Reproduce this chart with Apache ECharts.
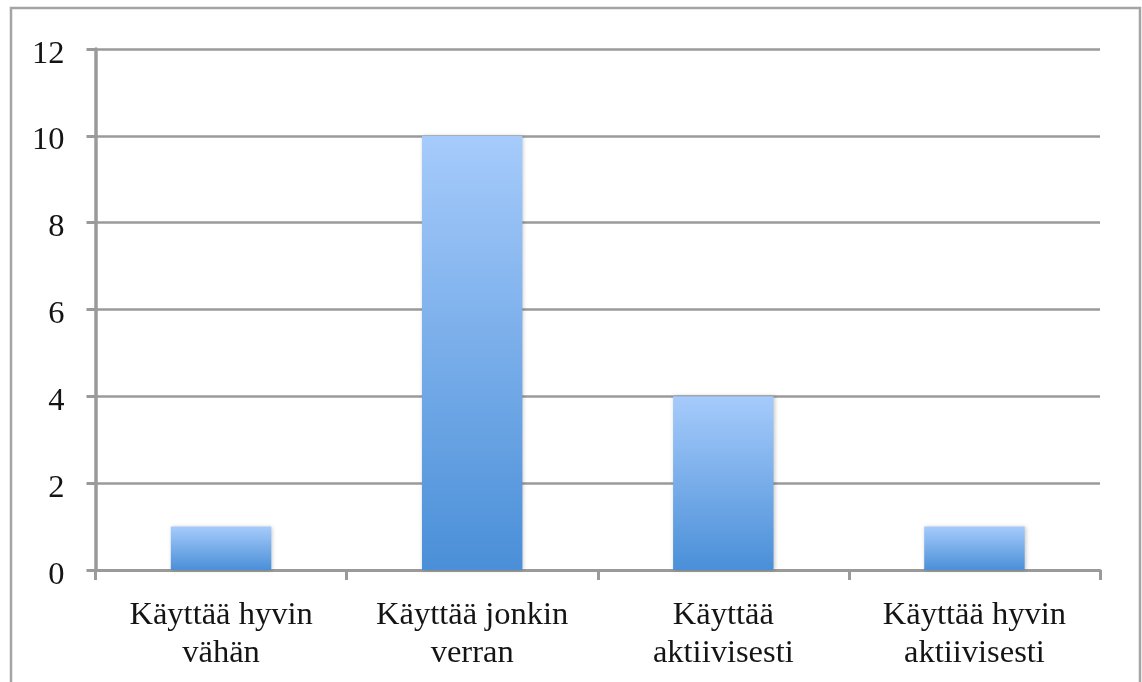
<!DOCTYPE html>
<html>
<head>
<meta charset="utf-8">
<script src="https://cdn.jsdelivr.net/npm/echarts@6/dist/echarts.min.js"></script>
<style>
  html, body { margin: 0; padding: 0; background: #ffffff; }
  #chart { width: 1142px; height: 682px; }
</style>
</head>
<body>
<div id="chart"></div>
<script>
// Category labels (two lines each) and counts per category
const categories = [
  'Käyttää hyvin\nvähän',
  'Käyttää jonkin\nverran',
  'Käyttää\naktiivisesti',
  'Käyttää hyvin\naktiivisesti'
];
const counts = [1, 10, 4, 1];

// Value axis range
const yMin = 0;
const yMax = 12;
const yStep = 2;

const FONT = '"Liberation Serif", "Times New Roman", serif';
const AXIS_GREY = '#9a9a9a';

const chart = echarts.init(document.getElementById('chart'), null, { renderer: 'canvas' });

chart.setOption({
  backgroundColor: '#ffffff',
  animation: false,
  graphic: [{
    type: 'rect',
    silent: true,
    z: -10,
    shape: { x: 11, y: 8, width: 1129, height: 700 },
    style: { fill: 'none', stroke: '#a4a4a4', lineWidth: 2.5 }
  }],
  grid: {
    left: 95.5,
    right: 42,
    top: 49,
    bottom: 112,
    containLabel: false
  },
  xAxis: {
    type: 'category',
    data: categories,
    axisLine: { show: true, lineStyle: { color: AXIS_GREY, width: 3 } },
    axisTick: { show: true, alignWithLabel: false, length: 10, lineStyle: { color: AXIS_GREY, width: 3 } },
    axisLabel: {
      color: '#141414',
      fontFamily: FONT,
      fontSize: 32.5,
      lineHeight: 38,
      margin: 26,
      interval: 0
    },
    splitLine: { show: false }
  },
  yAxis: {
    type: 'value',
    min: yMin,
    max: yMax,
    interval: yStep,
    axisLine: { show: true, lineStyle: { color: AXIS_GREY, width: 3.5 } },
    axisTick: { show: true, length: 9, lineStyle: { color: AXIS_GREY, width: 3 } },
    axisLabel: {
      color: '#141414',
      fontFamily: FONT,
      fontSize: 32.5,
      margin: 31,
      formatter: v => '{n|' + v + '}',
      rich: {
        n: {
          color: '#141414',
          fontFamily: FONT,
          fontSize: 32.5,
          padding: [10, 0, 0, 0]
        }
      }
    },
    splitLine: { show: true, lineStyle: { color: AXIS_GREY, width: 2.5 } }
  },
  series: [{
    type: 'bar',
    data: counts,
    barWidth: '40%',
    itemStyle: {
      color: new echarts.graphic.LinearGradient(0, 0, 0, 1, [
        { offset: 0, color: '#a6cbfb' },
        { offset: 1, color: '#4a8fd8' }
      ]),
      shadowColor: 'rgba(0,0,0,0.22)',
      shadowBlur: 4,
      shadowOffsetX: 1,
      shadowOffsetY: 0
    },
    z: 3
  }]
});
</script>
</body>
</html>
